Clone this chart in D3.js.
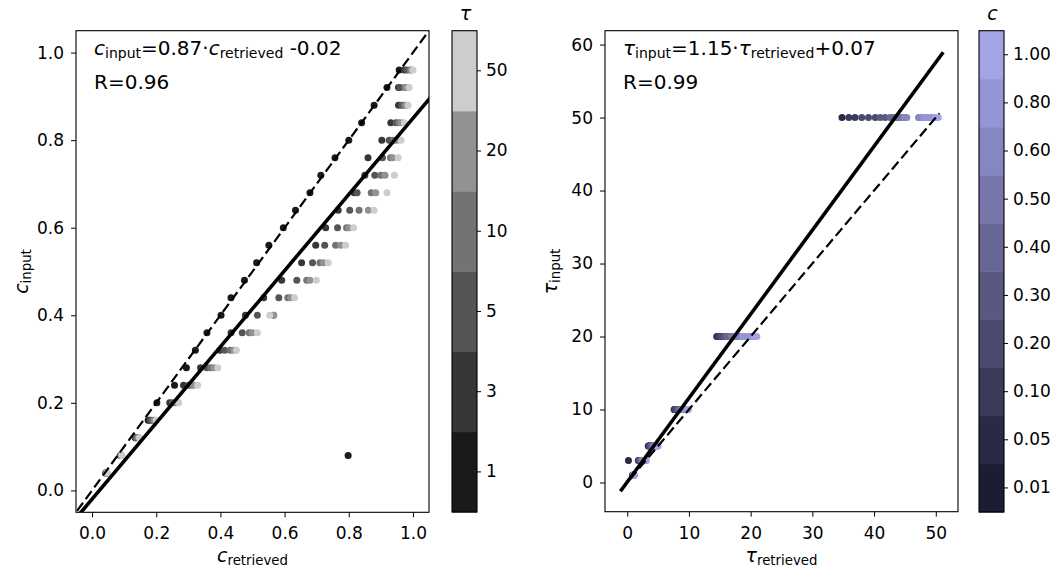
<!DOCTYPE html>
<html><head><meta charset="utf-8">
<script src="https://cdn.jsdelivr.net/npm/d3@7/dist/d3.min.js"></script>
<style>
body{margin:0;background:#fff}
text{font-family:"DejaVu Sans",sans-serif;fill:#000}
</style>
</head><body>
<svg id="chart" width="1060" height="569"></svg>
<script>
// ---------- DATA ----------
const cLevels = [0.04,0.08,0.12,0.16,0.20,0.24,0.28,0.32,0.36,0.40,0.44,0.48,0.52,0.56,0.60,0.64,0.68,0.72,0.76,0.80,0.84,0.88,0.92,0.96];
const tauLevels = [1,3,5,10,20,50];
const tauTickLabels = ["1","3","5","10","20","50"];
const tauColors = ["#1a1a1a","#363636","#555555","#737373","#929292","#cdcdcd"];
const cTickLabels = ["0.01","0.05","0.10","0.20","0.30","0.40","0.50","0.60","0.80","1.00"];
const cThresholds = [0.03,0.075,0.15,0.25,0.35,0.45,0.55,0.7,0.9];
const cColors = ["#1c1c33","#2a2a47","#3a3a5a","#4a4a6e","#585881","#676796","#7676aa","#8686c0","#9595d5","#a3a3e6"];

// left panel: retrieved cloud fraction for each input c, per tau
const cRetTau1  = [0.043,0.798,0.135,0.175,0.202,0.257,0.294,0.322,0.358,0.402,0.433,0.475,0.513,0.551,0.596,0.634,0.679,0.713,0.757,0.800,0.840,0.879,0.919,0.957];
const cRetTau3  = [0.044,0.088,0.136,0.179,0.242,0.285,0.338,0.398,0.433,0.478,0.535,0.591,0.653,0.697,0.728,0.767,0.817,0.850,0.860,0.903,0.931,0.955,0.955,0.973];
const cRetTau5  = [0.045,0.090,0.137,0.183,0.250,0.301,0.358,0.413,0.468,0.515,0.582,0.638,0.687,0.725,0.765,0.803,0.826,0.881,0.905,0.926,0.947,0.965,0.960,0.980];
const cRetTau10 = [0.046,0.091,0.140,0.190,0.259,0.310,0.370,0.430,0.490,0.566,0.610,0.669,0.710,0.759,0.793,0.832,0.870,0.900,0.930,0.940,0.955,0.973,0.975,0.990];
const cRetTau20 = [0.046,0.092,0.145,0.195,0.265,0.317,0.379,0.442,0.499,0.566,0.619,0.679,0.721,0.775,0.800,0.861,0.884,0.913,0.937,0.950,0.963,0.978,0.980,0.995];
const cRetTau50 = [0.047,0.093,0.148,0.200,0.270,0.329,0.392,0.450,0.515,0.554,0.631,0.699,0.736,0.790,0.815,0.879,0.919,0.942,0.954,0.963,0.973,0.985,0.988,1.000];

// right panel: retrieved optical depth for each input c, per tau
const tauRetTau1  = [0.85,0.90,0.90,0.92,0.94,0.95,0.96,0.97,0.98,0.99,1.00,1.00,1.01,1.02,1.03,1.04,1.05,1.06,1.07,1.08,1.09,1.10,1.10,1.10];
const tauRetTau3  = [0.2,1.8,1.9,2.0,2.05,2.1,2.15,2.2,2.25,2.3,2.35,2.4,2.45,2.5,2.55,2.6,2.65,2.7,2.75,2.8,2.9,2.95,3.0,3.1];
const tauRetTau5  = [3.4,3.5,3.6,3.7,3.8,3.85,3.9,4.0,4.05,4.1,4.2,4.25,4.3,4.35,4.4,4.45,4.5,4.6,4.65,4.7,4.8,4.85,4.9,5.0];
const tauRetTau10 = [7.6,7.7,7.8,7.9,8.0,8.1,8.2,8.3,8.4,8.5,8.6,8.7,8.8,8.85,8.9,9.0,9.1,9.2,9.3,9.45,9.6,9.7,9.8,9.9];
const tauRetTau20 = [14.5,14.7,14.9,15.1,15.3,15.5,15.7,15.9,16.1,16.3,16.6,16.9,17.2,17.5,17.8,18.1,18.4,18.7,19.0,19.4,19.8,20.2,20.6,21.0];
const tauRetTau50 = [34.8,35.9,36.9,38.0,39.1,40.2,41.0,41.8,42.6,43.2,43.7,44.1,44.5,44.9,45.3,47.2,47.6,48.0,48.4,48.8,49.2,49.6,50.0,50.4];

// fit / one-to-one lines
const leftFit = {slope:0.87, intercept:-0.02, x0:-0.1, x1:1.1};
const leftOne = {x0:-0.1, x1:1.1};
const rightFit = {slope:1.15, intercept:0.07, x0:-1.1, x1:51.2};
const rightOne = {x0:-1.1, x1:50.6};

const cRetByTau = [cRetTau1,cRetTau3,cRetTau5,cRetTau10,cRetTau20,cRetTau50];
const tauRetByTau = [tauRetTau1,tauRetTau3,tauRetTau5,tauRetTau10,tauRetTau20,tauRetTau50];

// ---------- BUILD ----------
const leftPts = [], rightPts = [];
cLevels.forEach((c,i)=>{
  tauLevels.forEach((t,j)=>{ leftPts.push({x:cRetByTau[j][i], y:c, tau:t}); });
});
tauLevels.forEach((t,j)=>{
  cLevels.forEach((c,i)=>{ rightPts.push({x:tauRetByTau[j][i], y:t, c:c}); });
});

const svg = d3.select("#chart");
const FS_TICK = 17, FS_LAB = 19, FS_ANN = 20;

const tauColor = d3.scaleOrdinal(tauLevels, tauColors);
const cColor = d3.scaleThreshold(cThresholds, cColors);

function mathText(g, parts, size){
  const t = g.append("text").attr("font-size", size);
  let shift = 0;
  parts.forEach(p=>{
    const ts = t.append("tspan").text(p.t);
    const target = p.sub ? size*0.17 : 0;
    if (target-shift !== 0) ts.attr("dy", target-shift);
    shift = target;
    if (p.sub) ts.attr("font-size", size*0.7);
    if (p.it) ts.attr("font-style","italic");
  });
  return t;
}

function panel(opts){
  const {L,R,T,B,xDom,yDom,xTicks,yTicks,fmt,pts,colorFn,fit,one,clip,id} = opts;
  const x = d3.scaleLinear(xDom,[L,R]);
  const y = d3.scaleLinear(yDom,[B,T]);
  const g = svg.append("g");
  g.append("clipPath").attr("id",id).append("rect").attr("x",L).attr("y",T).attr("width",R-L).attr("height",B-T);
  const plot = g.append("g").attr("clip-path",`url(#${id})`);
  plot.selectAll("circle").data(pts).join("circle")
    .attr("cx",d=>x(d.x)).attr("cy",d=>y(d.y)).attr("r",3.5)
    .attr("fill",colorFn);
  const line = d3.line().x(d=>x(d[0])).y(d=>y(d[1]));
  plot.append("path").attr("d",line([[one.x0,one.x0],[one.x1,one.x1]]))
    .attr("stroke","#000").attr("stroke-width",2.2).attr("stroke-dasharray","10,4.5").attr("fill","none");
  plot.append("path").attr("d",line([[fit.x0,fit.slope*fit.x0+fit.intercept],[fit.x1,fit.slope*fit.x1+fit.intercept]]))
    .attr("stroke","#000").attr("stroke-width",3.6).attr("fill","none");
  const ax = g.append("g").attr("transform",`translate(0,${B})`)
    .call(d3.axisBottom(x).tickValues(xTicks).tickFormat(fmt).tickSize(5).tickPadding(10));
  const ay = g.append("g").attr("transform",`translate(${L},0)`)
    .call(d3.axisLeft(y).tickValues(yTicks).tickFormat(fmt).tickSize(5).tickPadding(7));
  [ax,ay].forEach(a=>{
    a.select(".domain").remove();
    a.attr("font-family",null).attr("font-size",null);
    a.selectAll("text").attr("font-size",FS_TICK).attr("fill","#000");
    a.selectAll("line").attr("stroke","#000").attr("stroke-width",1);
  });
  g.append("rect").attr("x",L).attr("y",T).attr("width",R-L).attr("height",B-T)
    .attr("fill","none").attr("stroke","#000").attr("stroke-width",1.1);
  return {x,y,g};
}

function colorbar(L,W,T,B,labels,colors,title,titleIt){
  const g = svg.append("g");
  const band = d3.scaleBand(labels,[B,T]);
  g.selectAll("rect.b").data(labels).join("rect").attr("class","b")
    .attr("x",L).attr("width",W).attr("y",d=>band(d)).attr("height",band.bandwidth()+0.5)
    .attr("fill",(d,i)=>colors[i]);
  g.append("rect").attr("x",L).attr("y",T).attr("width",W).attr("height",B-T)
    .attr("fill","none").attr("stroke","#000").attr("stroke-width",1.1);
  const ay = g.append("g").attr("transform",`translate(${L+W},0)`)
    .call(d3.axisRight(band).tickSize(4).tickPadding(5));
  ay.select(".domain").remove();
  ay.attr("font-family",null).attr("font-size",null);
  ay.selectAll("text").attr("font-size",FS_TICK).attr("fill","#000");
  ay.selectAll("line").attr("stroke","#000");
  g.append("text").attr("x",L+W/2+1).attr("y",20).attr("text-anchor","middle")
    .attr("font-size",FS_LAB).attr("font-style","italic").text(title);
}

// left panel
const left = panel({L:76,R:429,T:30.7,B:512.3,xDom:[-0.05,1.05],yDom:[-0.05,1.05],
  xTicks:[0,0.2,0.4,0.6,0.8,1.0],yTicks:[0,0.2,0.4,0.6,0.8,1.0],fmt:d3.format(".1f"),
  pts:leftPts,colorFn:d=>tauColor(d.tau),fit:leftFit,one:leftOne,id:"clipL"});
// right panel
const right = panel({L:605,R:958,T:30.7,B:511.7,xDom:[-3.6,53.6],yDom:[-4.0,61.9],
  xTicks:[0,10,20,30,40,50],yTicks:[0,10,20,30,40,50,60],fmt:d3.format("d"),
  pts:rightPts,colorFn:d=>cColor(d.c),fit:rightFit,one:rightOne,id:"clipR"});

colorbar(452,25,30.7,512,tauTickLabels,tauColors,"τ");
colorbar(979,25,30.7,512,cTickLabels,cColors,"c");

// axis labels
mathText(svg,[{t:"c",it:1},{t:"retrieved",sub:1}],FS_LAB).attr("x",252.5).attr("y",561.5).attr("text-anchor","middle");
mathText(svg,[{t:"τ",it:1},{t:"retrieved",sub:1}],FS_LAB).attr("x",781.5).attr("y",561.5).attr("text-anchor","middle");
mathText(svg,[{t:"c",it:1},{t:"input",sub:1}],FS_LAB).attr("text-anchor","middle")
  .attr("transform","translate(28,271.5) rotate(-90)");
mathText(svg,[{t:"τ",it:1},{t:"input",sub:1}],FS_LAB).attr("text-anchor","middle")
  .attr("transform","translate(557,271.5) rotate(-90)");

// annotations
mathText(svg,[{t:"c",it:1},{t:"input",sub:1},{t:"=0.87·"},{t:"c",it:1},{t:"retrieved",sub:1},{t:" -0.02"}],FS_ANN).attr("x",94).attr("y",55);
svg.append("text").attr("x",94).attr("y",88.5).attr("font-size",FS_ANN).text("R=0.96");
mathText(svg,[{t:"τ",it:1},{t:"input",sub:1},{t:"=1.15·"},{t:"τ",it:1},{t:"retrieved",sub:1},{t:"+0.07"}],FS_ANN).attr("x",623).attr("y",55);
svg.append("text").attr("x",623).attr("y",89).attr("font-size",FS_ANN).text("R=0.99");
</script>
</body></html>
